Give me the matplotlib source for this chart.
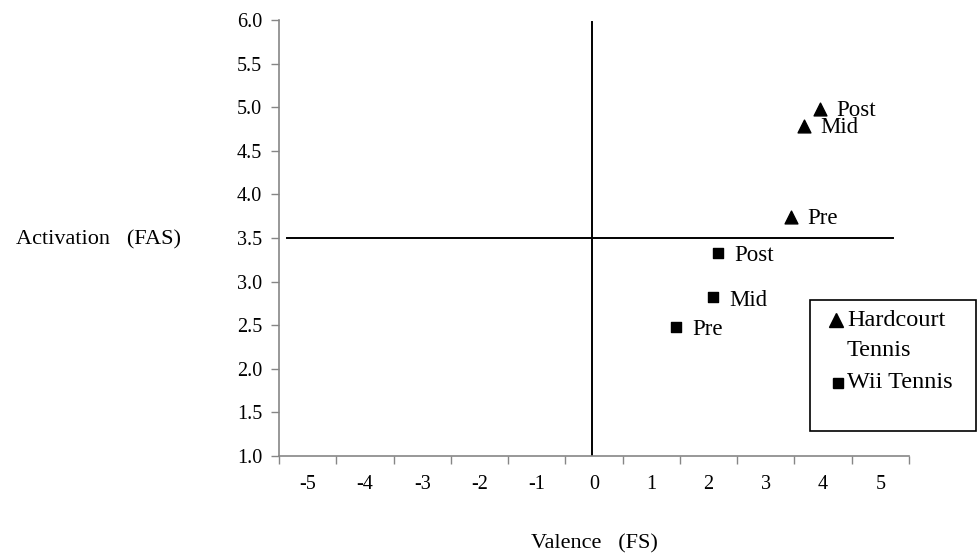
import matplotlib.pyplot as plt
from matplotlib.lines import Line2D
from matplotlib.patches import Rectangle

plt.rcParams["font.family"] = ["Liberation Serif", "DejaVu Serif"]

point_labels = ["Pre", "Mid", "Post"]
hardcourt_x = [3.44, 3.66, 3.94]
hardcourt_y = [3.74, 4.78, 4.98]
wii_x = [1.43, 2.08, 2.16]
wii_y = [2.48, 2.82, 3.33]

x_ticks = list(range(-5, 6))
y_ticks = [1.0, 1.5, 2.0, 2.5, 3.0, 3.5, 4.0, 4.5, 5.0, 5.5, 6.0]

fig = plt.figure(figsize=(9.78, 5.60), dpi=100)
ax = fig.add_axes([279 / 978, 1 - 456 / 560, 630 / 978, 436 / 560])

gray = "#868686"

# quadrant lines
ax.plot([-5.36, 5.22], [3.5, 3.5], color="black", lw=1.4, zorder=1)
ax.plot([-0.03, -0.03], [1.0, 5.98], color="black", lw=1.4, zorder=1)

ax.scatter(hardcourt_x, hardcourt_y, marker="^", s=85, color="black", zorder=3)
ax.scatter(wii_x, wii_y, marker="s", s=45, color="black", zorder=3)

for x, y, lab in zip(hardcourt_x, hardcourt_y, point_labels):
    ax.annotate(lab, (x, y), xytext=(12, -1), textcoords="offset points",
                ha="left", va="center", fontsize=16.5)
for x, y, lab in zip(wii_x, wii_y, point_labels):
    ax.annotate(lab, (x, y), xytext=(12, -2), textcoords="offset points",
                ha="left", va="center", fontsize=16.5)

ax.set_xlim(-5.5, 5.5)
ax.set_ylim(1.0, 6.0)

ax.set_xticks(x_ticks)
ax.set_xticklabels([str(t) for t in x_ticks])
ax.set_xticks([t + 0.5 for t in range(-6, 6)], minor=True)
ax.tick_params(axis="x", which="major", length=0, pad=14, labelsize=14.5)
ax.tick_params(axis="x", which="minor", length=6, width=1, color=gray,
               direction="out")

ax.set_yticks(y_ticks)
ax.set_yticklabels([f"{t:.1f}" for t in y_ticks])
ax.tick_params(axis="y", length=6, width=1, color=gray, direction="out",
               pad=6, labelsize=14.5)

for side in ["top", "right"]:
    ax.spines[side].set_visible(False)
for side in ["left", "bottom"]:
    ax.spines[side].set_color(gray)
    ax.spines[side].set_linewidth(1.2)

fig.text(99 / 978, 1 - 240 / 560, "Activation   (FAS)", ha="center",
         va="center", fontsize=16)
fig.text(594 / 978, 1 - 544 / 560, "Valence   (FS)", ha="center",
         va="center", fontsize=16)

# legend, drawn by hand so the marker sits on the first line of a wrapped label
fig.patches.append(Rectangle((810 / 978, 1 - 431 / 560), 166 / 978,
                             131 / 560, transform=fig.transFigure,
                             fill=False, edgecolor="black", lw=1.2))
fig.lines.append(Line2D([836 / 978], [1 - 320 / 560], marker="^",
                        markersize=9.5, color="black", linestyle="none",
                        transform=fig.transFigure))
fig.lines.append(Line2D([838 / 978], [1 - 383 / 560], marker="s",
                        markersize=6.5, color="black", linestyle="none",
                        transform=fig.transFigure))
fig.text(847 / 978, 1 - 320 / 560, "Hardcourt", ha="left", va="center",
         fontsize=17.5)
fig.text(847 / 978, 1 - 350 / 560, "Tennis", ha="left", va="center",
         fontsize=17.5)
fig.text(847 / 978, 1 - 383 / 560, "Wii Tennis", ha="left", va="center",
         fontsize=17.5)

fig.savefig("out.png", dpi=100)
